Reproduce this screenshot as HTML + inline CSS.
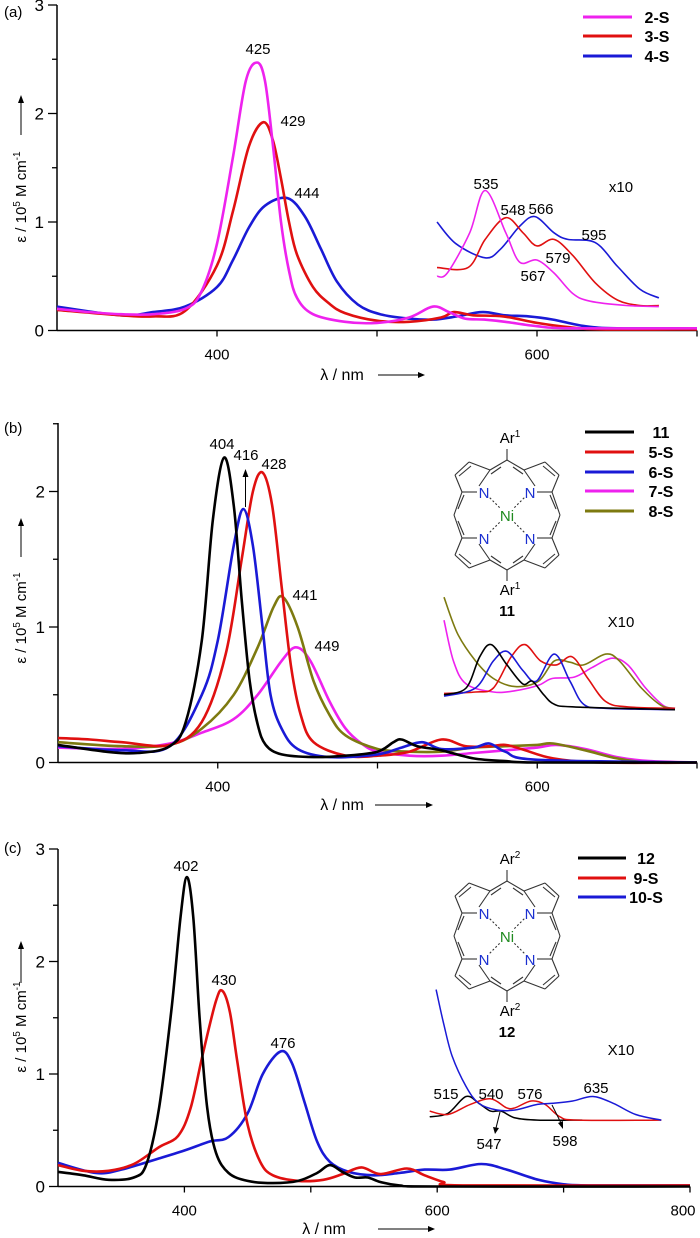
<!DOCTYPE html>
<html><head><meta charset="utf-8"><style>
html,body{margin:0;padding:0;background:#fff;}
svg{display:block;font-family:"Liberation Sans",sans-serif;}
</style></head><body>
<svg id="fig" width="700" height="1238" viewBox="0 0 700 1238" xmlns="http://www.w3.org/2000/svg"></svg>
<script>
// ---------- Panel (a) data: [wavelength nm, epsilon 1e5 M-1 cm-1] ----------
const a_2S = [[300,0.2],[320,0.17],[340,0.15],[360,0.15],[380,0.2],[390,0.35],[400,0.8],[410,1.6],[418,2.3],[425,2.47],[430,2.3],[435,1.7],[440,1.0],[445,0.55],[450,0.3],[460,0.15],[480,0.08],[500,0.07],[520,0.12],[535,0.22],[545,0.17],[555,0.11],[567,0.1],[580,0.08],[600,0.04],[620,0.02],[700,0.02]];
const a_3S = [[300,0.19],[340,0.14],[360,0.13],[380,0.18],[400,0.6],[410,1.1],[420,1.7],[429,1.92],[435,1.75],[440,1.4],[445,1.0],[450,0.7],[460,0.4],[470,0.25],[480,0.16],[500,0.09],[520,0.08],[540,0.12],[548,0.17],[560,0.14],[579,0.13],[600,0.07],[620,0.03],[640,0.01],[700,0.01]];
const a_4S = [[300,0.22],[340,0.14],[360,0.17],[380,0.22],[400,0.4],[410,0.65],[420,0.95],[430,1.15],[444,1.22],[455,1.05],[465,0.75],[475,0.45],[488,0.24],[502,0.15],[520,0.11],[535,0.1],[550,0.13],[566,0.17],[580,0.14],[595,0.13],[610,0.1],[630,0.04],[650,0.02],[700,0.02]];
// x10 inset (values as displayed on axis)
const a_in_2S = [[507,0.5],[513,0.53],[526,0.9],[535,1.29],[547,0.9],[555,0.63],[565,0.65],[575,0.53],[586,0.34],[596,0.27],[617,0.23],[636,0.22]];
const a_in_3S = [[507,0.58],[525,0.58],[535,0.84],[547,1.04],[557,0.9],[565,0.78],[575,0.84],[586,0.69],[599,0.44],[612,0.28],[625,0.23],[636,0.23]];
const a_in_4S = [[507,1.0],[518,0.8],[535,0.67],[544,0.75],[555,0.96],[564,1.05],[575,0.9],[583,0.84],[599,0.81],[612,0.59],[625,0.38],[636,0.3]];
const a_yticks = [0,1,2,3];
const a_xticks = [400,600];

// ---------- Panel (b) data ----------
const b_11 = [[300,0.13],[330,0.08],[350,0.07],[370,0.12],[380,0.3],[390,0.9],[397,1.8],[404,2.25],[410,1.9],[415,1.2],[420,0.6],[425,0.28],[430,0.13],[440,0.06],[460,0.04],[480,0.05],[500,0.08],[510,0.15],[515,0.17],[525,0.12],[540,0.09],[560,0.03],[580,0.01],[600,0],[700,0]];
const b_5S = [[300,0.18],[320,0.17],[340,0.15],[370,0.13],[390,0.3],[405,0.8],[415,1.5],[422,2.0],[428,2.14],[434,1.9],[440,1.3],[446,0.7],[452,0.35],[460,0.15],[480,0.05],[500,0.05],[520,0.08],[540,0.17],[555,0.12],[570,0.12],[580,0.13],[590,0.1],[610,0.03],[640,0],[700,0]];
const b_6S = [[300,0.12],[340,0.09],[370,0.12],[390,0.5],[400,0.9],[410,1.6],[416,1.87],[422,1.6],[428,1.0],[433,0.5],[440,0.25],[450,0.1],[470,0.04],[500,0.06],[515,0.11],[528,0.15],[540,0.1],[560,0.11],[570,0.14],[580,0.08],[600,0.02],[700,0]];
const b_7S = [[300,0.11],[340,0.1],[370,0.14],[390,0.22],[410,0.32],[425,0.5],[440,0.75],[449,0.85],[458,0.75],[470,0.45],[480,0.25],[490,0.14],[500,0.08],[520,0.05],[540,0.05],[560,0.07],[580,0.09],[600,0.11],[612,0.13],[630,0.1],[650,0.04],[670,0.01],[700,0]];
const b_8S = [[300,0.15],[340,0.12],[370,0.13],[390,0.25],[410,0.5],[425,0.85],[435,1.15],[441,1.22],[450,1.0],[460,0.6],[470,0.35],[480,0.2],[500,0.1],[520,0.08],[540,0.08],[560,0.11],[580,0.12],[600,0.13],[610,0.14],[630,0.09],[650,0.03],[670,0],[700,0]];
const b_in_11 = [[500,0.5],[521,0.55],[534,0.78],[545,0.87],[560,0.72],[575,0.58],[584,0.6],[595,0.5],[605,0.43],[624,0.41],[720,0.39]];
const b_in_5S = [[500,0.51],[530,0.52],[547,0.55],[564,0.78],[577,0.87],[592,0.75],[607,0.72],[622,0.78],[637,0.62],[654,0.45],[675,0.41],[720,0.4]];
const b_in_6S = [[500,0.49],[530,0.55],[547,0.75],[560,0.82],[575,0.68],[588,0.6],[605,0.8],[620,0.6],[633,0.43],[654,0.4],[720,0.39]];
const b_in_7S = [[500,1.05],[509,0.75],[521,0.58],[547,0.52],[568,0.53],[590,0.57],[603,0.62],[624,0.63],[641,0.7],[660,0.77],[675,0.72],[692,0.55],[709,0.42],[720,0.4]];
const b_in_8S = [[500,1.22],[513,0.95],[530,0.75],[547,0.62],[568,0.56],[590,0.6],[605,0.75],[620,0.74],[633,0.72],[654,0.8],[667,0.75],[688,0.55],[707,0.42],[720,0.4]];
const b_yticks = [0,1,2];
const b_xticks = [400,600];

// ---------- Panel (c) data ----------
const c_12 = [[300,0.13],[320,0.1],[340,0.06],[360,0.08],[370,0.2],[380,0.7],[390,1.6],[397,2.4],[402,2.75],[407,2.4],[412,1.5],[418,0.7],[425,0.3],[435,0.12],[450,0.05],[470,0.03],[490,0.05],[505,0.12],[515,0.19],[525,0.13],[535,0.08],[545,0.08],[555,0.04],[570,0.01],[600,0],[800,0]];
const c_9S = [[300,0.19],[320,0.14],[340,0.14],[360,0.2],[380,0.35],[395,0.45],[405,0.7],[415,1.2],[425,1.65],[430,1.74],[436,1.55],[442,1.1],[450,0.55],[460,0.22],[470,0.1],[490,0.05],[510,0.06],[525,0.11],[540,0.17],[555,0.11],[576,0.16],[590,0.1],[605,0.04],[620,0.01],[800,0.01]];
const c_10S = [[300,0.21],[330,0.12],[350,0.15],[380,0.25],[400,0.32],[420,0.4],[435,0.44],[450,0.65],[462,1.0],[476,1.2],[485,1.1],[495,0.75],[505,0.4],[515,0.22],[530,0.13],[550,0.1],[570,0.12],[590,0.15],[610,0.15],[635,0.2],[655,0.15],[680,0.06],[700,0.02],[720,0.01],[800,0.01]];
const c_in_12 = [[481,0.62],[498,0.65],[515,0.8],[527,0.74],[538,0.67],[548,0.67],[561,0.61],[582,0.59],[624,0.59]];
const c_in_9S = [[481,0.67],[498,0.64],[519,0.73],[538,0.78],[553,0.7],[561,0.7],[576,0.76],[589,0.73],[603,0.62],[620,0.59],[698,0.59]];
const c_in_10S = [[487,1.75],[494,1.45],[502,1.16],[515,0.89],[527,0.74],[544,0.68],[561,0.68],[582,0.73],[597,0.74],[615,0.76],[634,0.8],[653,0.74],[674,0.64],[698,0.59]];
const c_yticks = [0,1,2,3];
const c_xticks = [400,600,800];

const NS = "http://www.w3.org/2000/svg";
const svg = document.getElementById('fig');
function el(tag, attrs, parent, text){
  const e = document.createElementNS(NS, tag);
  for (const k in attrs) e.setAttribute(k, attrs[k]);
  if (text !== undefined) e.textContent = text;
  (parent||svg).appendChild(e);
  return e;
}
function smooth(pts){
  let d = 'M' + pts[0][0].toFixed(1) + ',' + pts[0][1].toFixed(1);
  for (let i=0;i<pts.length-1;i++){
    const p0 = pts[Math.max(0,i-1)], p1 = pts[i], p2 = pts[i+1], p3 = pts[Math.min(pts.length-1,i+2)];
    const c1x = p1[0] + (p2[0]-p0[0])/6, c1y = p1[1] + (p2[1]-p0[1])/6;
    const c2x = p2[0] - (p3[0]-p1[0])/6, c2y = p2[1] - (p3[1]-p1[1])/6;
    d += ' C' + c1x.toFixed(1)+','+c1y.toFixed(1)+' '+c2x.toFixed(1)+','+c2y.toFixed(1)+' '+p2[0].toFixed(1)+','+p2[1].toFixed(1);
  }
  return d;
}

function axes(g, cfg){
  const {x0,x1,y0,yTop,xmin,xmax,unit,yticks,xticks,minorX,maxY} = cfg;
  const X = v => x0 + (v-xmin)*(x1-x0)/(xmax-xmin);
  const Y = v => y0 - v*unit;
  const ax = el('g', {}, g);
  
  
  el('line', {x1:x0, y1:y0, x2:x1, y2:y0, stroke:'#000','stroke-width':1.5}, ax);
  el('line', {x1:x0, y1:y0, x2:x0, y2:yTop, stroke:'#000','stroke-width':1.5}, ax);
  for (let v=0; v<=maxY+0.001; v+=0.5){
    const major = Math.abs(v-Math.round(v))<0.01;
    el('line', {x1:x0-(major?9:5), y1:Y(v), x2:x0, y2:Y(v), stroke:'#000','stroke-width':1.3}, ax);
  }
  yticks.forEach(v=>{
    const t = el('text', {x:x0-13, y:Y(v)+6, 'text-anchor':'end','font-size':17}, ax, String(v));
    
    
  });
  minorX.forEach(v=>{
    el('line', {x1:X(v), y1:y0, x2:X(v), y2:y0+6, stroke:'#000','stroke-width':1.3}, ax);
  });
  xticks.forEach(v=>{
    const xx = Math.min(X(v), 683);
    const t = el('text', {x:xx, y:y0+29, 'text-anchor':'middle','font-size':15}, ax, String(v));
    
    
  });
  return {X,Y};
}

function curve(g, pts, X, Y, color, w, name){
  const p = el('path', {d:smooth(pts.map(q=>[X(q[0]),Y(q[1])])), fill:'none', stroke:color,'stroke-width':w,'stroke-linejoin':'round'}, g);
  
  
}

function label(g, x, y, txt, size, extra){
  const t = el('text', Object.assign({x:x, y:y, 'text-anchor':'middle','font-size':size||15}, extra||{}), g, txt);
  
  
  return t;
}

function yTitle(g, cx, cy, ay1, ay2){
  const t = el('text', {x:0,y:0,'font-size':15,'text-anchor':'middle',transform:`translate(${cx},${cy}) rotate(-90)`}, g);
  
  
  t.innerHTML = 'ε / 10<tspan dy="-6" font-size="10">5</tspan><tspan dy="6"> M cm</tspan><tspan dy="-6" font-size="10">-1</tspan>';
  el('line', {x1:cx-5, y1:ay1, x2:cx-5, y2:ay2+4, stroke:'#000','stroke-width':1}, g);
  el('path', {d:`M${cx-8},${ay2+6} L${cx-5},${ay2-2} L${cx-2},${ay2+6} Z`, fill:'#000'}, g);
}
function xTitle(g, cx, y, ax1, ax2){
  const t = el('text', {x:cx, y:y,'font-size':16,'text-anchor':'middle'}, g, 'λ / nm');
  
  
  el('line', {x1:ax1, y1:y-5, x2:ax2-4, y2:y-5, stroke:'#000','stroke-width':1}, g);
  el('path', {d:`M${ax2-7},${y-8} L${ax2},${y-5} L${ax2-7},${y-2} Z`, fill:'#000'}, g);
}
function legend(g, items, lx1, lx2, tx, ys){
  items.forEach((it,i)=>{
    const lg = el('g', {}, g);
    
    
    el('line', {x1:lx1, y1:ys[i], x2:lx2, y2:ys[i], stroke:it[1],'stroke-width':3}, lg);
    el('text', {x:tx, y:ys[i]+6,'font-size':16,'font-weight':'bold','text-anchor':'middle'}, lg, it[0]);
  });
}
function porphyrin(g, cx, cy, ar, num){
  const m = el('g', {transform:`translate(${cx},${cy})`}, g);
  
  
  const L = (a,b,c,d,dash)=>el('line',{x1:a,y1:b,x2:c,y2:d,stroke:'#333','stroke-width':1.1,'stroke-dasharray':dash||'none'}, m);
  [[1,1],[-1,1],[1,-1],[-1,-1]].forEach(([sx,sy])=>{
    const N=[-23*sx,-23*sy], a1=[-17*sx,-45*sy], b1=[-38*sx,-53*sy], b2=[-52*sx,-40*sy], a2=[-45*sx,-23*sy];
    L(N[0]+5*sx*-1, N[1]-6*sy, a1[0], a1[1]);
    L(a1[0],a1[1],b1[0],b1[1]); L(b1[0],b1[1],b2[0],b2[1]); L(b2[0],b2[1],a2[0],a2[1]);
    L(a2[0],a2[1],N[0]-7*sx,N[1]);
    L(b1[0]+(-2*sx)*-1,b1[1]+4*sy,b2[0]+4*sx,b2[1]+1*sy);
    L(a1[0],a1[1],0,-55*sy);
    L(a2[0],a2[1],-53*sx,0);
    L(-6*sx,-48*sy,-16*sx,-41*sy);
    L(-49*sx,-6*sy,-43*sx,-20*sy);
    L(N[0]*0.75,N[1]*0.75,N[0]*0.3,N[1]*0.3,'2,2');
  });
  L(0,-55,0,-66); L(0,55,0,66);
  const nt = (x,y)=>el('text',{x:x,y:y+6,'font-size':15,'text-anchor':'middle',fill:'#1a2fd0'}, m, 'N');
  nt(-23,-23); nt(23,-23); nt(-23,23); nt(23,23);
  el('text',{x:0,y:6,'font-size':15,'text-anchor':'middle',fill:'#1f8a1f'}, m, 'Ni');
  const t1 = el('text',{x:3,y:-72,'font-size':15,'text-anchor':'middle'}, m);
  t1.innerHTML = 'Ar<tspan dy="-6" font-size="10">'+ar+'</tspan>';
  const t2 = el('text',{x:3,y:80,'font-size':15,'text-anchor':'middle'}, m);
  t2.innerHTML = 'Ar<tspan dy="-6" font-size="10">'+ar+'</tspan>';
  el('text',{x:0,y:101,'font-size':15,'font-weight':'bold','text-anchor':'middle'}, m, num);
}

// ================= Panel A =================
const gA = el('g', {});  
el('text',{x:4,y:17,'font-size':15},gA,'(a)');
const A = axes(gA,{x0:57,x1:697,y0:330.5,yTop:5,xmin:300,xmax:700,unit:108.5,yticks:a_yticks,xticks:a_xticks,minorX:[400,500,600,700],maxY:3});
yTitle(gA,26,197,135,97);
xTitle(gA,342,380,378,425);
curve(gA,a_4S,A.X,A.Y,'#1a1ad6',2.6,'line-4-S');
curve(gA,a_3S,A.X,A.Y,'#e01010',2.6,'line-3-S');
curve(gA,a_2S,A.X,A.Y,'#ee22ee',2.6,'line-2-S');
const AiX = v => 437 + (v-507)*1.72;
curve(gA,a_in_4S,AiX,A.Y,'#1a1ad6',1.6,'inset-4-S');
curve(gA,a_in_3S,AiX,A.Y,'#e01010',1.6,'inset-3-S');
curve(gA,a_in_2S,AiX,A.Y,'#ee22ee',1.6,'inset-2-S');
legend(gA,[['2-S','#ee22ee'],['3-S','#e01010'],['4-S','#1a1ad6']],583,632,657,[17,36,56]);
[[258,54,'425'],[293,126,'429'],[307,198,'444'],[486,189,'535'],[513,215,'548'],[541,214,'566'],[594,240,'595'],[558,263,'579'],[533,281,'567'],[621,192,'x10']].forEach(l=>label(gA,l[0],l[1],l[2]));

// ================= Panel B =================
const gB = el('g', {});  
el('text',{x:4,y:433,'font-size':15},gB,'(b)');
const B = axes(gB,{x0:58,x1:697,y0:762.5,yTop:423,xmin:300,xmax:700,unit:135.5,yticks:b_yticks,xticks:b_xticks,minorX:[400,500,600,700],maxY:2.5});
yTitle(gB,26,618,557,520);
xTitle(gB,342,810,375,433);
curve(gB,b_7S,B.X,B.Y,'#ee22ee',2.6,'line-7-S');
curve(gB,b_8S,B.X,B.Y,'#7d7a10',2.6,'line-8-S');
curve(gB,b_5S,B.X,B.Y,'#e01010',2.6,'line-5-S');
curve(gB,b_6S,B.X,B.Y,'#1a1ad6',2.6,'line-6-S');
curve(gB,b_11,B.X,B.Y,'#000',2.6,'line-11');
const BiX = v => 444 + (v-500)*1.05;
curve(gB,b_in_7S,BiX,B.Y,'#ee22ee',1.6,'inset-7-S');
curve(gB,b_in_8S,BiX,B.Y,'#7d7a10',1.6,'inset-8-S');
curve(gB,b_in_5S,BiX,B.Y,'#e01010',1.6,'inset-5-S');
curve(gB,b_in_6S,BiX,B.Y,'#1a1ad6',1.6,'inset-6-S');
curve(gB,b_in_11,BiX,B.Y,'#000',1.6,'inset-11');
legend(gB,[['11','#000'],['5-S','#e01010'],['6-S','#1a1ad6'],['7-S','#ee22ee'],['8-S','#7d7a10']],585,634,661,[432,452,472,491,511]);
porphyrin(gB,507,515,'1','11');
[[222,449,'404'],[246,460,'416'],[274,469,'428'],[305,600,'441'],[327,651,'449'],[621,627,'X10']].forEach(l=>label(gB,l[0],l[1],l[2]));
el('line',{x1:245.5,y1:507,x2:245.5,y2:475,stroke:'#000','stroke-width':1},gB);
el('path',{d:'M242.5,477 L245.5,469 L248.5,477 Z',fill:'#000'},gB);

// ================= Panel C =================
const gC = el('g', {});  
el('text',{x:4,y:853,'font-size':15},gC,'(c)');
const C = axes(gC,{x0:58,x1:690,y0:1186.5,yTop:849,xmin:300,xmax:800,unit:112.5,yticks:c_yticks,xticks:c_xticks,minorX:[400,500,600,700,800],maxY:3});
yTitle(gC,26,1027,983,943);
xTitle(gC,324,1234,378,435);
curve(gC,c_10S,C.X,C.Y,'#1a1ad6',2.6,'line-10-S');
curve(gC,c_9S,C.X,C.Y,'#e01010',2.6,'line-9-S');
curve(gC,c_12,C.X,C.Y,'#000',2.6,'line-12');
const CiX = v => 466 + (v-515)*1.067;
curve(gC,c_in_12,CiX,C.Y,'#000',1.5,'inset-12');
curve(gC,c_in_9S,CiX,C.Y,'#e01010',1.5,'inset-9-S');
curve(gC,c_in_10S,CiX,C.Y,'#1a1ad6',1.5,'inset-10-S');
legend(gC,[['12','#000'],['9-S','#e01010'],['10-S','#1a1ad6']],578,626,646,[858,878,897]);
porphyrin(gC,507,936,'2','12');
[[186,871,'402'],[224,985,'430'],[283,1048,'476'],[446,1099,'515'],[491,1099,'540'],[530,1099,'576'],[596,1093,'635'],[489,1149,'547'],[565,1146,'598'],[621,1055,'X10']].forEach(l=>label(gC,l[0],l[1],l[2]));
el('line',{x1:500,y1:1112,x2:496,y2:1128,stroke:'#000','stroke-width':1},gC);
el('path',{d:'M493,1127 L495,1134 L499,1128 Z',fill:'#000'},gC);
el('line',{x1:552,y1:1105,x2:561,y2:1123,stroke:'#000','stroke-width':1},gC);
el('path',{d:'M558,1123 L563,1129 L563,1121 Z',fill:'#000'},gC);
</script>
</body></html>
